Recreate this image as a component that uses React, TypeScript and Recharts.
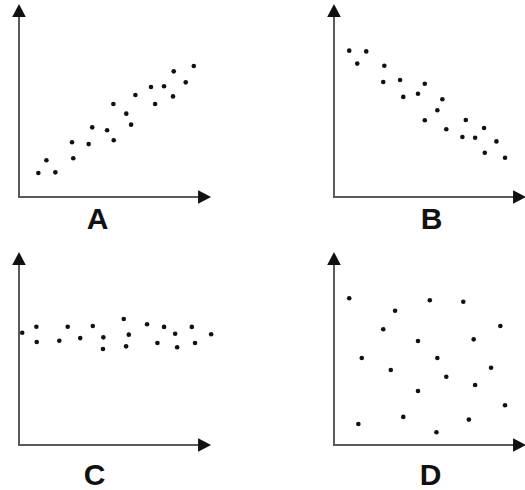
import { ReferenceLine, Scatter, ScatterChart, XAxis, YAxis } from "recharts";

// positive correlation
const pointsA = [
  { x: 10.8, y: 13.3 }, { x: 15.3, y: 20.4 }, { x: 20.3, y: 13.7 }, { x: 29.6, y: 30.4 },
  { x: 30.3, y: 21.5 }, { x: 38.9, y: 29.4 }, { x: 40.9, y: 38.7 }, { x: 49.2, y: 37.1 },
  { x: 52.7, y: 51.7 }, { x: 52.9, y: 31.5 }, { x: 59.9, y: 46.3 }, { x: 62.6, y: 40.2 },
  { x: 65.0, y: 56.7 }, { x: 73.7, y: 61.1 }, { x: 76.0, y: 51.7 }, { x: 81.0, y: 61.5 },
  { x: 86.0, y: 55.9 }, { x: 86.4, y: 69.8 }, { x: 93.1, y: 63.7 }, { x: 97.6, y: 72.8 },
];

// negative correlation
const pointsB = [
  { x: 8.5, y: 81.3 }, { x: 18.0, y: 80.9 }, { x: 13.0, y: 74.1 }, { x: 28.1, y: 72.9 },
  { x: 27.5, y: 63.9 }, { x: 36.9, y: 65.0 }, { x: 38.7, y: 55.6 }, { x: 50.7, y: 62.9 },
  { x: 46.9, y: 57.4 }, { x: 60.5, y: 54.3 }, { x: 57.7, y: 48.2 }, { x: 50.7, y: 42.6 },
  { x: 62.7, y: 37.6 }, { x: 73.6, y: 42.8 }, { x: 71.7, y: 33.3 }, { x: 78.8, y: 32.9 },
  { x: 83.8, y: 38.3 }, { x: 90.7, y: 30.9 }, { x: 84.2, y: 24.6 }, { x: 95.5, y: 21.8 },
];

// flat band
const pointsC = [
  { x: 1.8, y: 62.4 }, { x: 9.7, y: 65.7 }, { x: 9.9, y: 57.2 }, { x: 22.5, y: 57.9 },
  { x: 27.2, y: 65.7 }, { x: 34.2, y: 59.4 }, { x: 41.2, y: 66.1 }, { x: 47.1, y: 59.8 },
  { x: 46.9, y: 53.3 }, { x: 58.5, y: 70.0 }, { x: 61.3, y: 61.3 }, { x: 59.8, y: 54.8 },
  { x: 71.5, y: 67.1 }, { x: 81.0, y: 65.6 }, { x: 77.3, y: 56.7 }, { x: 87.2, y: 61.8 },
  { x: 88.3, y: 54.3 }, { x: 96.5, y: 65.6 }, { x: 98.3, y: 56.7 }, { x: 107.3, y: 61.5 },
];

// no correlation
const pointsD = [
  { x: 8.5, y: 81.5 }, { x: 53.5, y: 80.4 }, { x: 72.2, y: 79.6 }, { x: 34.1, y: 74.6 },
  { x: 27.5, y: 64.3 }, { x: 92.9, y: 66.1 }, { x: 46.9, y: 57.8 }, { x: 78.0, y: 58.7 },
  { x: 15.5, y: 48.3 }, { x: 57.7, y: 48.3 }, { x: 87.7, y: 42.9 }, { x: 31.7, y: 41.7 },
  { x: 62.7, y: 37.9 }, { x: 78.8, y: 33.3 }, { x: 46.9, y: 30.0 }, { x: 95.5, y: 22.1 },
  { x: 38.7, y: 15.6 }, { x: 75.3, y: 14.1 }, { x: 13.6, y: 11.7 }, { x: 57.2, y: 7.1 },
];

const panelLabels = ["A", "B", "C", "D"];

const panels = [
  { data: pointsA, left: 0, top: 0, labelX: 97.5, labelTop: 206 },
  { data: pointsB, left: 315, top: 0, labelX: 431.7, labelTop: 206 },
  { data: pointsC, left: 0, top: 248, labelX: 94.5, labelTop: 462 },
  { data: pointsD, left: 315, top: 248, labelX: 430.7, labelTop: 462 },
];

const Arrow = (props: any) => {
  const { x1, y1, x2, y2 } = props;
  const len = Math.hypot(x2 - x1, y2 - y1) || 1;
  const dx = (x2 - x1) / len;
  const dy = (y2 - y1) / len;
  const head = 13;
  const half = 6.8;
  const tip = `${x2 + dx * head},${y2 + dy * head}`;
  const b1 = `${x2 - dy * half},${y2 + dx * half}`;
  const b2 = `${x2 + dy * half},${y2 - dx * half}`;
  return (
    <g>
      <line x1={x1 - dx} y1={y1 - dy} x2={x2 + dx} y2={y2 + dy} stroke="#5a5a5a" strokeWidth={2} />
      <polygon points={`${tip} ${b1} ${b2}`} fill="#111" />
    </g>
  );
};

const Dot = (props: any) => <circle cx={props.cx} cy={props.cy} r={2.3} fill="#111" />;

export default function App() {
  return (
    <div
      style={{
        position: "absolute",
        left: 0,
        top: 0,
        width: 525,
        height: 490,
        overflow: "hidden",
        background: "#fff",
      }}
    >
      {panels.map((p, i) => (
        <div key={i}>
          <div style={{ position: "absolute", left: p.left, top: p.top }}>
            <ScatterChart width={216} height={240} margin={{ top: 17, right: 0, bottom: 43, left: 19 }}>
              <XAxis type="number" dataKey="x" domain={[0, 110]} hide />
              <YAxis type="number" dataKey="y" domain={[0, 100]} hide />
              <ReferenceLine
                segment={[{ x: 0, y: 0 }, { x: 0, y: 100 }]}
                shape={Arrow}
                ifOverflow="visible"
              />
              <ReferenceLine
                segment={[{ x: 0, y: 0 }, { x: 100, y: 0 }]}
                shape={Arrow}
                ifOverflow="visible"
              />
              <Scatter data={p.data} shape={Dot} isAnimationActive={false} />
            </ScatterChart>
          </div>
          <div
            style={{
              position: "absolute",
              left: p.labelX - 20,
              top: p.labelTop,
              width: 40,
              textAlign: "center",
              fontFamily: "'Liberation Sans', Arial, sans-serif",
              fontWeight: "bold",
              fontSize: 30,
              lineHeight: "26px",
              color: "#111",
            }}
          >
            {panelLabels[i]}
          </div>
        </div>
      ))}
    </div>
  );
}
